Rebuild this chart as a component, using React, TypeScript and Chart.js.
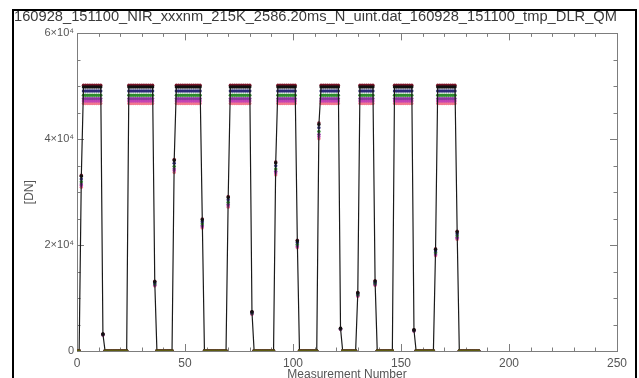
import React, { useEffect, useRef } from "react";
import { Chart, registerables } from "chart.js";

Chart.register(...registerables);

const chartTitle =
  "160928_151100_NIR_xxxnm_215K_2586.20ms_N_uint.dat_160928_151100_tmp_DLR_QM";
const xAxisTitle = "Measurement Number";
const yAxisTitle = "[DN]";

// measurement numbers 0..186
const measurementCount = 187;
// measurement ranges where the detector sits on the saturated plateau
const highRanges = [
  [3, 11],
  [24, 35],
  [46, 57],
  [71, 80],
  [93, 101],
  [113, 121],
  [131, 137],
  [147, 155],
  [167, 175],
];
// measurements caught mid-transition
const transitionX = [2, 12, 36, 45, 58, 70, 81, 92, 102, 112, 122, 130, 138, 156, 166, 176];

const seriesNames = ["s1", "s2", "s3", "s4", "s5", "s6", "s7"];
const seriesColors = ["#111111", "#7a1428", "#2b2b78", "#2e8b2e", "#8a3a9e", "#c444b4", "#f2788e"];
const highLevels = [49870, 50190, 49110, 48300, 47680, 47230, 46740];

const transBlack = [33000, 3200, 13100, 36000, 24800, 29000, 7400, 35500, 20800, 42800, 4300, 11000, 13200, 4000, 19200, 22500];
const transRed = [33200, 3220, 13180, 36200, 24950, 29170, 7440, 35710, 20920, 43060, 4330, 11070, 13280, 4020, 19320, 22640];
const transNavy = [32500, 3150, 12900, 35460, 24430, 28570, 7290, 34970, 20490, 42160, 4240, 10840, 13000, 3940, 18910, 22160];
const transGreen = [31980, 3100, 12690, 34880, 24030, 28100, 7170, 34400, 20160, 41470, 4170, 10660, 12790, 3880, 18600, 21800];
const transPurple = [31550, 3060, 12520, 34420, 23710, 27720, 7070, 33940, 19880, 40920, 4110, 10520, 12620, 3820, 18360, 21510];
const transMagenta = [31250, 3030, 12410, 34090, 23490, 27460, 7010, 33620, 19700, 40530, 4070, 10420, 12500, 3790, 18180, 21310];
const transPink = [30920, 3000, 12270, 33730, 23240, 27170, 6930, 33260, 19490, 40100, 4030, 10310, 12370, 3750, 17990, 21080];
const transitions = [transBlack, transRed, transNavy, transGreen, transPurple, transMagenta, transPink];

const xTickValues = [0, 50, 100, 150, 200, 250];
const yTickValues = [0, 20000, 40000, 60000];
const yTickLabels = ["0", "2×10⁴", "4×10⁴", "6×10⁴"];

function buildSeries(high: number, trans: number[]) {
  const pts: { x: number; y: number }[] = [];
  for (let i = 0; i < measurementCount; i++) {
    const t = transitionX.indexOf(i);
    let v = 0;
    if (t >= 0) v = trans[t];
    else if (highRanges.some(([a, b]) => i >= a && i <= b)) v = high;
    pts.push({ x: i, y: v });
  }
  return pts;
}

const axesPlugin = {
  id: "idlAxes",
  beforeDatasetsDraw(chart: any) {
    const { ctx, chartArea: a, scales } = chart;
    const x = scales.x;
    const y = scales.y;
    ctx.save();
    ctx.strokeStyle = "#7d7d7d";
    ctx.lineWidth = 1;
    ctx.strokeRect(Math.round(a.left) + 0.5, Math.round(a.top) + 0.5, Math.round(a.right - a.left), Math.round(a.bottom - a.top));
    ctx.beginPath();
    for (let v = 0; v <= 250; v += 10) {
      const px = Math.round(x.getPixelForValue(v)) + 0.5;
      const len = v % 50 === 0 ? 7 : 3.5;
      ctx.moveTo(px, a.bottom);
      ctx.lineTo(px, a.bottom - len);
      ctx.moveTo(px, a.top);
      ctx.lineTo(px, a.top + len);
    }
    for (let v = 0; v <= 60000; v += 5000) {
      const py = Math.round(y.getPixelForValue(v)) + 0.5;
      const len = v % 20000 === 0 ? 7 : 3.5;
      ctx.moveTo(a.left, py);
      ctx.lineTo(a.left + len, py);
      ctx.moveTo(a.right, py);
      ctx.lineTo(a.right - len, py);
    }
    ctx.stroke();
    ctx.restore();
  },
};

export default function App() {
  const ref = useRef<HTMLCanvasElement | null>(null);

  useEffect(() => {
    if (!ref.current) return;
    const datasets = seriesNames.map((name, k) => ({
      label: name,
      data: buildSeries(highLevels[k], transitions[k]),
      showLine: k === 0,
      borderColor: "#1a1a1a",
      borderWidth: 1.2,
      pointRadius: 1.7,
      pointBorderWidth: 0,
      pointBackgroundColor:
        k === 0
          ? (c: any) => (c.raw && c.raw.y === 0 ? "#5e5c12" : seriesColors[0])
          : seriesColors[k],
      pointBorderColor: seriesColors[k],
      tension: 0,
    }));

    const chart = new Chart(ref.current, {
      type: "scatter",
      data: { datasets },
      plugins: [axesPlugin],
      options: {
        animation: false,
        responsive: false,
        maintainAspectRatio: false,
        layout: { padding: { left: 14, right: 22, top: 0, bottom: 0 } },
        plugins: {
          legend: { display: false },
          tooltip: { enabled: false },
          title: {
            display: true,
            text: chartTitle,
            align: "start",
            color: "#3a3a3a",
            font: { family: "'Liberation Sans', Arial, sans-serif", size: 15.3, weight: "normal" },
            padding: { top: 8, bottom: 7 },
          },
        },
        scales: {
          x: {
            type: "linear",
            min: 0,
            max: 250,
            afterFit: (s: any) => {
              s.height = 27;
            },
            afterBuildTicks: (s: any) => {
              s.ticks = xTickValues.map((v) => ({ value: v }));
            },
            grid: { display: false, drawTicks: false },
            border: { display: false },
            ticks: {
              color: "#555",
              padding: 5,
              maxRotation: 0,
              font: { family: "'Liberation Sans', Arial, sans-serif", size: 12 },
            },
            title: {
              display: true,
              text: xAxisTitle,
              color: "#555",
              font: { family: "'Liberation Sans', Arial, sans-serif", size: 12 },
              padding: { top: 0, bottom: -4 },
            },
          },
          y: {
            type: "linear",
            min: 0,
            max: 60000,
            afterFit: (s: any) => {
              s.width = 63;
            },
            afterBuildTicks: (s: any) => {
              s.ticks = yTickValues.map((v) => ({ value: v }));
            },
            grid: { display: false, drawTicks: false },
            border: { display: false },
            ticks: {
              color: "#555",
              padding: 3,
              font: { family: "'Liberation Sans', Arial, sans-serif", size: 11 },
              callback: (v: any) => {
                const i = yTickValues.indexOf(Number(v));
                return i >= 0 ? yTickLabels[i] : "";
              },
            },
            title: {
              display: true,
              text: yAxisTitle,
              color: "#555",
              font: { family: "'Liberation Sans', Arial, sans-serif", size: 12 },
              padding: { top: 8, bottom: 0 },
            },
          },
        },
      },
    });
    return () => chart.destroy();
  }, []);

  return (
    <div
      style={{
        position: "fixed",
        left: 0,
        top: 0,
        width: 639,
        height: 378,
        background: "#fff",
        overflow: "hidden",
      }}
    >
      <div
        style={{
          position: "absolute",
          left: 12,
          top: 9,
          width: 621,
          height: 420,
          border: "2px solid #000",
          boxSizing: "content-box",
        }}
      />
      <canvas
        ref={ref}
        width={639}
        height={378}
        style={{ position: "absolute", left: 0, top: 0, width: 639, height: 378 }}
      />
    </div>
  );
}
